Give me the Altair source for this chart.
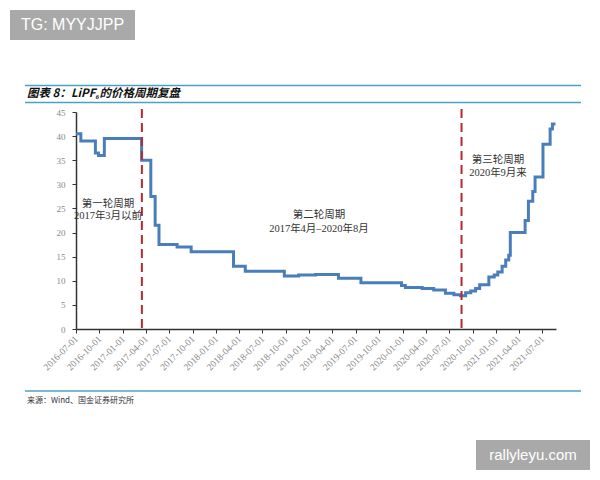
import altair as alt
import pandas as pd

# ---- data ----
dates = [
    "2016-07-01", "2016-07-20", "2016-09-15", "2016-09-27", "2016-10-20",
    "2017-03-15", "2017-04-20", "2017-05-07", "2017-05-22", "2017-08-01",
    "2017-09-25", "2018-03-10", "2018-04-25", "2018-09-25", "2018-11-20",
    "2019-01-25", "2019-04-25", "2019-07-22", "2019-12-28", "2020-01-12",
    "2020-03-18", "2020-05-02", "2020-06-17", "2020-07-20", "2020-08-15",
    "2020-09-04", "2020-09-24", "2020-10-13", "2020-10-29", "2020-12-04",
    "2020-12-25", "2021-01-08", "2021-01-25", "2021-02-08", "2021-02-20",
    "2021-02-26", "2021-04-25", "2021-05-08", "2021-05-25", "2021-06-03",
    "2021-07-04", "2021-08-01", "2021-08-10", "2021-08-22",
]
prices = [
    40.5, 39.0, 36.5, 36.0, 39.5,
    35.0, 27.5, 21.5, 17.5, 17.0,
    16.0, 13.0, 12.0, 11.0, 11.2,
    11.3, 10.5, 9.6, 9.0, 8.6,
    8.4, 8.1, 7.4, 7.1, 6.9,
    7.5, 7.9, 8.4, 9.2, 10.8,
    11.2, 11.8, 13.0, 14.3, 15.3,
    20.0, 22.5, 26.5, 28.5, 31.5,
    38.3, 41.5, 42.5, 42.5,
]
cycle_breaks = ["2017-03-16", "2020-08-19"]
tick_dates = [
    "2016-07-01", "2016-10-01", "2017-01-01", "2017-04-01", "2017-07-01",
    "2017-10-01", "2018-01-01", "2018-04-01", "2018-07-01", "2018-10-01",
    "2019-01-01", "2019-04-01", "2019-07-01", "2019-10-01", "2020-01-01",
    "2020-04-01", "2020-07-01", "2020-10-01", "2021-01-01", "2021-04-01",
    "2021-07-01",
]
y_ticks = [0, 5, 10, 15, 20, 25, 30, 35, 40, 45]
title_text = "图表 8：LiPF₆的价格周期复盘"
source_text = "来源：Wind、国金证券研究所"
ann1 = ["第一轮周期", "2017年3月以前"]
ann2 = ["第二轮周期", "2017年4月–2020年8月"]
ann3 = ["第三轮周期", "2020年9月来"]


def dt(s):
    y, m, d = (int(p) for p in s.split("-"))
    return alt.DateTime(year=y, month=m, date=d, utc=True)


df = pd.DataFrame({"date": dates, "price": prices})
brk = pd.DataFrame({"date": cycle_breaks})
one = pd.DataFrame({"a": [0]})

W, H = 480, 217
serif = "Liberation Serif, Noto Sans CJK SC"
cjk = "Noto Sans CJK SC"

xscale = alt.Scale(type="utc", domain=[dt("2016-07-01"), dt("2021-08-24")])
yscale = alt.Scale(domain=[0, 45])

xaxis = alt.Axis(values=[dt(t) for t in tick_dates], format="%Y-%m-%d",
                 labelAngle=-45, labelAlign="right", labelBaseline="middle",
                 labelPadding=4, tickSize=4, labelFont=serif,
                 labelFontSize=9.5, labelColor="#888888",
                 domainColor="#333333", tickColor="#333333",
                 domainWidth=1.5, grid=False, labelOverlap=False)

line = alt.Chart(df).mark_line(
    interpolate="step-after", color="#4a7ebb", strokeWidth=3, clip=True
).encode(
    x=alt.X("date:T", scale=xscale, title=None, axis=xaxis),
    y=alt.Y("price:Q", scale=yscale, title=None,
            axis=alt.Axis(values=y_ticks, tickSize=4, labelPadding=7,
                          labelFont=serif, labelFontSize=9, labelColor="#888888",
                          domainColor="#333333", tickColor="#333333",
                          domainWidth=1.5, grid=False)),
)

rules = alt.Chart(brk).mark_rule(
    color="#b52a2f", strokeWidth=2, strokeDash=[9, 5]
).encode(
    x=alt.X("date:T", scale=xscale, title=None, axis=xaxis),
    y=alt.value(-3),
    y2=alt.value(H),
)


def txt(t, x, y, size=10.5, color="#333333", font=serif, **kw):
    return alt.Chart(one).mark_text(
        text=t, fontSize=size, color=color, font=font, **kw
    ).encode(x=alt.value(x), y=alt.value(y))


def hrule(x1, x2, y, color="#4ba3c3", w=1.5):
    return alt.Chart(one).mark_rule(color=color, strokeWidth=w).encode(
        x=alt.value(x1), x2=alt.value(x2), y=alt.value(y))


def box(x1, x2, y1, y2, color="#a9a9a9"):
    return alt.Chart(one).mark_rect(color=color).encode(
        x=alt.value(x1), x2=alt.value(x2), y=alt.value(y1), y2=alt.value(y2))


layers = [
    line, rules,
    txt(ann1[0], 32, 92), txt(ann1[1], 32, 104),
    txt(ann2[0], 243, 103), txt(ann2[1], 243, 117),
    txt(ann3[0], 422, 48), txt(ann3[1], 422, 61),
    hrule(-51, 505, -26.5), hrule(-51, 505, -9.5),
    txt(title_text, -49, -18, size=11.5, color="#111111", font=cjk,
        align="left", fontWeight="bold", fontStyle="italic"),
    hrule(-51, 505, 279),
    txt(source_text, -49, 289, size=8, color="#333333", font=cjk, align="left"),
    box(-66, 59, -102, -72),
    txt("TG: MYYJJPP", -3.5, -87, size=16, color="#ffffff", font="Liberation Sans"),
    box(400, 514, 328, 358),
    txt("rallyleyu.com", 457, 343, size=15, color="#ffffff", font="Liberation Sans"),
]

chart = alt.layer(*layers).properties(
    width=W, height=H,
    autosize=alt.AutoSizeParams(type="none"),
    padding={"left": 68, "top": 104, "right": 36, "bottom": 143},
    background="white",
).configure_view(stroke=None).configure_text(baseline="middle")

chart.save("out.html", embed_options={"renderer": "svg", "actions": False})
